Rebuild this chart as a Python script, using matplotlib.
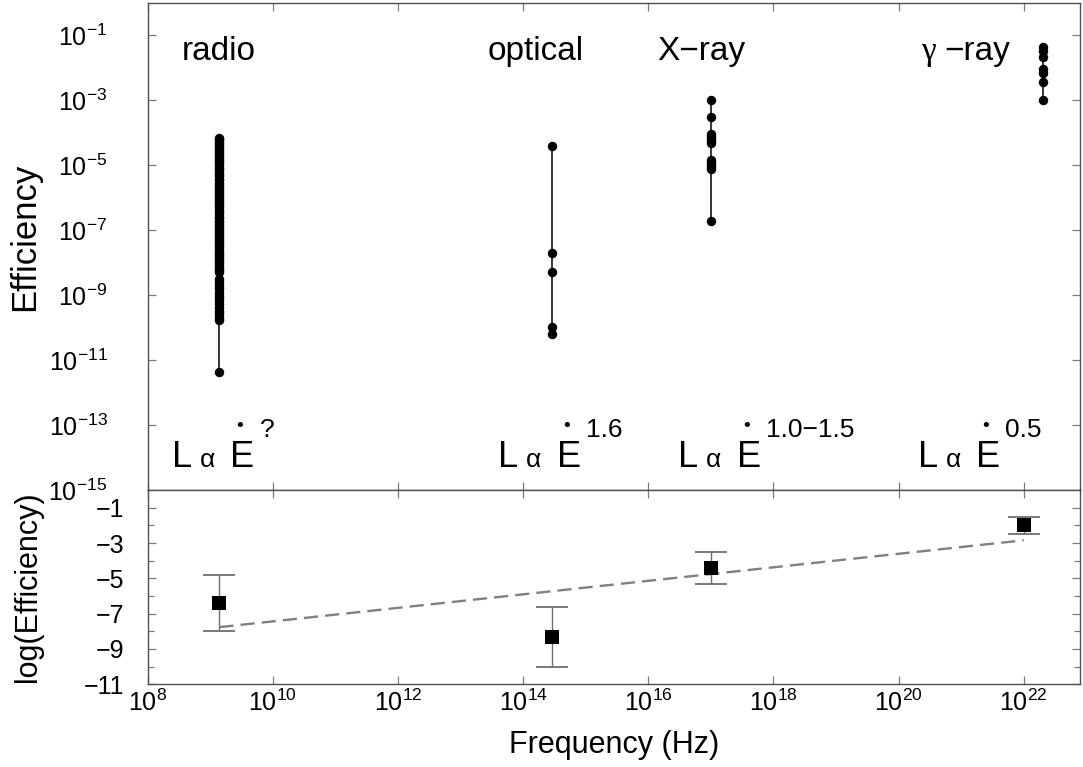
import numpy as np
import matplotlib
matplotlib.use("Agg")
import matplotlib.pyplot as plt
from matplotlib.transforms import offset_copy
from matplotlib.ticker import FixedLocator, NullFormatter, LogFormatterSciNotation

plt.rcParams['font.family'] = ['Liberation Sans', 'DejaVu Sans']
plt.rcParams['mathtext.fontset'] = 'custom'
plt.rcParams['mathtext.rm'] = 'Liberation Sans'
plt.rcParams['mathtext.it'] = 'Liberation Sans:italic'
plt.rcParams['mathtext.bf'] = 'Liberation Sans:bold'

# --- pulsar efficiencies per band (log10 of L / Edot) ---
RADIO_FREQ = 1.4e9
OPTICAL_FREQ = 2.9e14
XRAY_FREQ = 1.0e17
GAMMA_FREQ = 2.0e22

RADIO_LOG_EFF = [
    -4.15, -4.19, -4.26, -4.33, -4.38, -4.46, -4.52, -4.60, -4.66, -4.73,
    -4.81, -4.86, -4.94, -5.00, -5.08, -5.13, -5.21, -5.28, -5.34, -5.42,
    -5.47, -5.55, -5.62, -5.69, -5.75, -5.83, -5.90, -5.95, -6.03, -6.10,
    -6.16, -6.24, -6.30, -6.37, -6.44, -6.50, -6.58, -6.64, -6.71, -6.79,
    -6.85, -6.92, -6.99, -7.05, -7.13, -7.19, -7.26, -7.33, -7.40, -7.47,
    -7.53, -7.60, -7.68, -7.74, -7.81, -7.88, -7.95, -8.02, -8.09, -8.16,
    -8.22, -8.28,
    -8.50, -8.58, -8.66, -8.74, -8.82, -8.92, -9.03, -9.10, -9.18, -9.26,
    -9.40, -9.48, -9.56, -9.64, -9.72, -9.78,
    -11.37,
]
OPTICAL_LOG_EFF = [-4.40, -7.70, -8.28, -9.98, -10.20]
XRAY_LOG_EFF = [-3.00, -3.53, -4.04, -4.10, -4.17, -4.24, -4.31,
                -4.85, -4.92, -4.99, -5.05, -5.11, -6.71]
GAMMA_LOG_EFF = [-1.35, -1.50, -1.68, -2.05, -2.15, -2.45, -2.98]

# --- band averages for the lower panel ---
BAND_FREQ = [1.4e9, 2.9e14, 1.0e17, 1.0e22]
BAND_LOG_EFF = [-6.4, -8.3, -4.4, -2.0]
BAND_LOG_ERR = [1.6, 1.7, 0.9, 0.5]

BAND_NAMES = ["radio", "optical", "X\u2212ray"]
EDOT_POWERS = ["?", "1.6", "1.0\u22121.5", "0.5"]

TICK_GREY = "#7a7a7a"
SPINE_GREY = "#505050"


def style_axes(ax):
    for sp in ax.spines.values():
        sp.set_color(SPINE_GREY)
        sp.set_linewidth(1.0)
    ax.tick_params(which="both", direction="in", top=True, right=True,
                   color=TICK_GREY, width=0.9)
    ax.tick_params(which="major", length=6)
    ax.tick_params(which="minor", length=4)


def power_law_label(ax, x, y, power):
    """Writes  L alpha E-dot^power  starting at (x, y) in axes fraction."""
    fig = ax.figure
    base = ax.transAxes

    def at(dx, dy):
        return offset_copy(base, fig=fig, x=dx, y=dy, units="points")

    ax.text(x, y, "L", transform=at(0, 0), fontsize=26, va="baseline")
    ax.text(x, y, "\u03b1", transform=at(20, 0), fontsize=19, va="baseline")
    ax.text(x, y, "E", transform=at(42, 0), fontsize=26, va="baseline")
    ax.text(x, y, "\u2022", transform=at(49, 29), fontsize=14,
            ha="center", va="center")
    ax.text(x, y, power, transform=at(63, 22), fontsize=19, va="baseline")


fig = plt.figure(figsize=(10.83, 7.67), dpi=100)
ax_top = fig.add_axes([0.1364, 0.361, 0.8609, 0.6355])
ax_bot = fig.add_axes([0.1364, 0.108, 0.8609, 0.253])

# --- upper panel: individual pulsars ---
bands = [
    (RADIO_FREQ, RADIO_LOG_EFF),
    (OPTICAL_FREQ, OPTICAL_LOG_EFF),
    (XRAY_FREQ, XRAY_LOG_EFF),
    (GAMMA_FREQ, GAMMA_LOG_EFF),
]
for freq, log_eff in bands:
    eff = 10.0 ** np.array(log_eff)
    ax_top.plot([freq, freq], [eff.min(), eff.max()], color="black", lw=1.1,
                zorder=2)
    ax_top.plot(np.full(eff.size, freq), eff, "o", color="black", ms=6.8,
                mew=0, zorder=3)

ax_top.set_xscale("log")
ax_top.set_yscale("log")
ax_top.set_xlim(1e8, 10 ** 22.9)
ax_top.set_ylim(1e-15, 1)
ax_top.xaxis.set_major_locator(FixedLocator([10.0 ** p for p in range(8, 23, 2)]))
ax_top.xaxis.set_minor_locator(FixedLocator([]))
ax_top.xaxis.set_major_formatter(NullFormatter())
ax_top.yaxis.set_major_locator(FixedLocator([10.0 ** p for p in range(-15, 0, 2)]))
ax_top.yaxis.set_minor_locator(FixedLocator([]))
ax_top.yaxis.set_major_formatter(LogFormatterSciNotation())
style_axes(ax_top)
ax_top.tick_params(axis="y", labelsize=18, pad=29)
ax_top.set_ylabel("Efficiency", fontsize=25)
ax_top.yaxis.set_label_coords(-0.114, 0.52)

# band names
label_pos = [0.0368, 0.365, 0.546]
for name, xf in zip(BAND_NAMES, label_pos):
    ax_top.text(xf, 0.882, name, transform=ax_top.transAxes, fontsize=24,
                va="baseline")
ax_top.text(0.830, 0.882, "\u03b3", transform=ax_top.transAxes, fontsize=24,
            va="baseline", family="Liberation Serif")
ax_top.text(0.854, 0.882, "\u2212ray", transform=ax_top.transAxes, fontsize=24,
            va="baseline")

# scaling with spin-down power
for xf, power in zip([0.026, 0.376, 0.569, 0.826], EDOT_POWERS):
    power_law_label(ax_top, xf, 0.047, power)

# --- lower panel: band averages and linear fit in log-log ---
ax_bot.errorbar(BAND_FREQ, BAND_LOG_EFF, yerr=BAND_LOG_ERR, fmt="none",
                ecolor="#6e6e6e", elinewidth=1.0, capsize=11.5, capthick=1.3,
                zorder=2)
ax_bot.plot(BAND_FREQ, BAND_LOG_EFF, "s", color="black", ms=9.5, mew=0,
            zorder=3)

slope, intercept = np.polyfit(np.log10(BAND_FREQ), BAND_LOG_EFF, 1)
fit_x = np.array([BAND_FREQ[0], BAND_FREQ[-1]])
ax_bot.plot(fit_x, slope * np.log10(fit_x) + intercept, color="#808080",
            lw=1.7, dashes=(6, 3), zorder=1)

ax_bot.set_xscale("log")
ax_bot.set_xlim(1e8, 10 ** 22.9)
ax_bot.set_ylim(-11, 0)
ax_bot.xaxis.set_major_locator(FixedLocator([10.0 ** p for p in range(8, 23, 2)]))
ax_bot.xaxis.set_minor_locator(FixedLocator([]))
ax_bot.xaxis.set_major_formatter(LogFormatterSciNotation())
ax_bot.yaxis.set_major_locator(FixedLocator(range(-11, 0, 2)))
ax_bot.yaxis.set_minor_locator(FixedLocator(range(-10, 0, 2)))
style_axes(ax_bot)
ax_bot.tick_params(axis="y", labelsize=18, pad=17)
ax_bot.tick_params(axis="x", labelsize=18, pad=4)
ax_bot.set_ylabel("log(Efficiency)", fontsize=22)
ax_bot.yaxis.set_label_coords(-0.112, 0.5)
ax_bot.set_xlabel("Frequency (Hz)", fontsize=22, labelpad=10)

fig.savefig("out.png", dpi=100)
